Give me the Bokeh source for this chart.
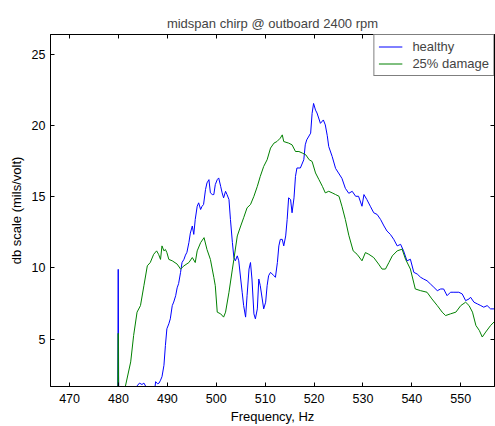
from bokeh.plotting import figure
from bokeh.models import Range1d, FixedTicker, LinearAxis, Legend, LegendItem, CustomJSTickFormatter
from bokeh.embed import file_html
from bokeh.resources import INLINE

# ---- data ----
healthy_freq = [479.5, 479.85, 479.95, 480.05, 480.3, 483.5, 483.8, 484.3, 484.8, 485.2, 485.7, 486.2,
                487.2, 487.6, 488.0, 488.3, 488.6, 488.9, 489.3, 489.6, 489.9, 490.3, 490.6, 491.0,
                491.3, 491.7, 492.0, 492.3, 492.7, 493.0, 493.4, 493.7, 494.0, 494.4, 494.7, 495.1,
                495.4, 495.7, 496.1, 496.4, 496.8, 497.1, 497.4, 497.8, 498.1, 498.5, 498.8, 499.2,
                499.5, 499.8, 500.2, 500.5, 500.9, 501.2, 501.5, 501.9, 502.2, 502.6, 502.9, 503.3,
                503.6, 503.9, 504.3, 504.6, 505.0, 505.3, 505.6, 506.0, 506.3, 506.7, 507.0, 507.3,
                507.7, 508.0, 508.4, 508.7, 509.0, 509.4, 509.7, 510.1, 510.4, 510.7, 511.1, 511.8,
                512.1, 512.5, 512.8, 513.1, 513.5, 513.8, 514.2, 514.5, 514.8, 515.2, 515.5, 515.9,
                516.2, 516.5, 517.2, 517.9, 518.2, 518.5, 519.3, 519.6, 519.9, 520.3, 520.6, 521.3,
                521.9, 522.3, 522.7, 523.0, 523.7, 524.4, 525.0, 525.7, 526.4, 527.1, 527.8, 528.5,
                529.1, 529.8, 530.2, 530.8, 531.5, 532.2, 532.9, 533.6, 534.3, 534.9, 535.6, 536.3,
                537.0, 537.7, 538.3, 539.0, 539.7, 540.4, 541.1, 541.8, 542.4, 543.1, 543.8, 544.5,
                545.2, 545.9, 546.5, 547.2, 547.9, 548.6, 549.6, 550.3, 551.0, 551.7, 552.0, 552.7,
                553.4, 554.1, 554.7, 555.4, 556.1, 557.1, 557.5]
healthy_db = [0.5, 0.5, 9.9, 0.5, 0.3, 0.5, 1.7, 1.9, 1.8, 1.9, 1.6, 0.8,
              0.8, 2.0, 1.85, 1.9, 2.1, 2.35, 3.15, 4.55, 5.72, 6.07, 6.42, 7.35,
              7.6, 8.05, 8.6, 8.9, 9.69, 10.38, 10.61, 10.9, 11.1, 11.78, 12.45, 12.95,
              12.36, 13.41, 14.34, 14.58, 14.11, 14.34, 14.46, 15.51, 15.98, 16.21, 15.28, 15.16,
              15.16, 15.86, 16.21, 16.33, 15.74, 15.28, 14.93, 15.39, 15.16, 14.81, 13.41, 11.78,
              10.73, 10.5, 10.85, 10.5, 9.22, 8.29, 7.35, 6.54, 8.05, 9.92, 10.38, 9.22,
              6.77, 6.42, 7.12, 9.22, 8.75, 7.82, 7.12, 7.59, 8.75, 9.45, 9.69, 9.45,
              9.34, 10.38, 11.55, 12.01, 12.01, 11.55, 12.25, 13.41, 14.93, 14.81, 13.88, 14.93,
              16.44, 17.03, 17.03, 17.61, 18.66, 19.01, 19.48, 20.87, 21.57, 21.1, 20.9, 20.17,
              20.41, 20.06, 19.3, 18.54, 17.84, 17.0, 16.68, 16.3, 15.6, 15.25, 15.39, 15.04,
              15.04, 14.34, 15.16, 14.81, 14.34, 13.88, 13.76, 13.41, 12.95, 12.6, 12.36, 12.01,
              11.55, 11.66, 11.2, 10.5, 10.61, 9.69, 9.57, 9.34, 9.22, 9.1, 8.87, 8.64,
              8.4, 8.52, 8.52, 8.05, 8.29, 8.29, 8.29, 8.17, 7.7, 7.82, 7.94, 7.59,
              7.47, 7.35, 7.24, 7.35, 7.12, 7.12, 7.1]

damage_freq = [479.5, 479.85, 479.95, 480.05, 481.0, 481.4, 482.5, 483.1, 483.8, 484.5, 485.2, 485.9,
               486.5, 487.2, 487.8, 488.2, 488.6, 488.9, 489.3, 489.6, 489.9, 490.3, 491.0, 492.0,
               492.7, 493.4, 494.4, 495.1, 495.7, 496.1, 496.8, 497.5, 498.1, 498.8, 499.5, 499.8,
               500.2, 500.9, 501.5, 501.9, 502.6, 503.3, 503.6, 504.3, 505.0, 505.6, 506.3, 507.0,
               507.7, 508.4, 509.0, 509.7, 510.4, 511.1, 511.8, 512.4, 513.1, 513.5, 513.8, 514.8,
               515.5, 516.2, 516.9, 517.6, 518.3, 519.0, 519.6, 520.3, 521.0, 521.7, 522.3, 523.0,
               523.7, 524.4, 525.1, 525.7, 526.4, 527.1, 528.0, 528.8, 529.8, 530.5, 531.2, 532.2,
               533.2, 533.9, 534.6, 535.3, 536.0, 537.0, 538.0, 538.7, 539.7, 540.7, 541.8, 543.1,
               544.1, 545.2, 546.2, 546.9, 547.9, 549.0, 550.0, 551.0, 551.7, 552.4, 553.1, 553.8,
               554.4, 555.1, 556.1, 557.1]
damage_db = [0.5, 0.5, 5.4, 0.5, 0.5, 1.65, 3.39, 5.25, 6.89, 7.35, 8.75, 10.15,
             10.38, 10.96, 11.2, 10.96, 10.6, 11.55, 11.2, 11.3, 11.08, 10.6, 10.5, 10.27,
             9.92, 10.15, 10.38, 10.73, 10.38, 11.2, 11.78, 12.13, 11.3, 10.6, 9.34, 8.75,
             6.89, 6.77, 6.54, 6.89, 8.29, 9.92, 10.6, 12.25, 12.95, 13.53, 14.23, 14.46,
             15.04, 15.74, 16.44, 17.14, 17.61, 18.43, 18.78, 18.89, 19.13, 19.36, 18.89, 18.78,
             18.66, 18.19, 18.19, 18.08, 17.96, 17.61, 17.49, 16.68, 16.21, 15.74, 15.28, 15.39,
             15.28, 15.16, 15.04, 14.34, 13.41, 12.3, 11.2, 10.96, 10.5, 11.08, 10.96, 10.73,
             10.27, 9.92, 9.92, 10.38, 10.85, 11.2, 11.32, 10.62, 9.92, 8.52, 8.4, 8.29,
             7.82, 7.35, 6.89, 6.65, 6.77, 6.89, 7.35, 7.59, 7.35, 6.89, 5.95, 5.6,
             5.14, 5.49, 5.95, 6.3]

x_ticks = [470, 480, 490, 500, 510, 520, 530, 540, 550]
y_ticks = [5, 10, 15, 20, 25]
series_labels = ["healthy", "25% damage"]

FONT = "Liberation Sans"

p = figure(width=495, height=426, output_backend="svg", toolbar_location=None,
           x_range=Range1d(466.1, 556.9), y_range=Range1d(1.66, 26.42),
           min_border_left=50, min_border_right=1, min_border_top=34, min_border_bottom=38,
           title="midspan chirp @ outboard 2400 rpm")
p.title.align = "center"
p.title.text_font = FONT
p.title.text_font_size = "13px"
p.title.text_font_style = "normal"
p.title.standoff = 7

p.grid.visible = False
p.outline_line_color = "black"
p.background_fill_color = "white"
p.border_fill_color = "white"

def style_axis(ax, ticks, show_labels=True):
    ax.ticker = FixedTicker(ticks=ticks)
    ax.axis_line_color = "black"
    ax.major_tick_line_color = "black"
    ax.major_tick_in = 4
    ax.major_tick_out = 0
    ax.minor_tick_line_color = None
    ax.major_label_text_font = FONT
    ax.major_label_text_color = "black"
    ax.axis_label_text_font = FONT
    ax.axis_label_text_font_style = "normal"
    ax.axis_label_text_color = "black"
    if show_labels:
        ax.major_label_text_font_size = "12.5px"
        ax.axis_label_text_font_size = "13px"
    else:
        ax.formatter = CustomJSTickFormatter(code="return ''")
        ax.major_label_text_font_size = "0px"
        ax.major_label_standoff = 0

style_axis(p.xaxis[0], x_ticks)
p.xaxis[0].axis_label = "Frequency, Hz"
p.xaxis[0].major_label_standoff = 7
p.xaxis[0].axis_label_standoff = 3
style_axis(p.yaxis[0], y_ticks)
p.yaxis[0].axis_label = "db scale (mils/volt)"
p.yaxis[0].major_label_standoff = 5
p.yaxis[0].axis_label_standoff = 5

top_axis = LinearAxis()
style_axis(top_axis, x_ticks, show_labels=False)
p.add_layout(top_axis, "above")
right_axis = LinearAxis()
style_axis(right_axis, y_ticks, show_labels=False)
p.add_layout(right_axis, "right")

r_h = p.line(healthy_freq, healthy_db, line_color="#0000ff", line_width=1)
r_d = p.line(damage_freq, damage_db, line_color="#008000", line_width=1)

legend = Legend(items=[LegendItem(label=series_labels[0], renderers=[r_h]),
                       LegendItem(label=series_labels[1], renderers=[r_d])],
                location="top_right", margin=0, padding=4, spacing=2,
                label_height=15, glyph_height=15, glyph_width=24, label_standoff=10,
                label_text_font=FONT, label_text_font_size="13px",
                border_line_color="black", border_line_width=1,
                background_fill_color="white", background_fill_alpha=1.0)
p.add_layout(legend, "center")

open("out.html", "w").write(file_html(p, INLINE))
